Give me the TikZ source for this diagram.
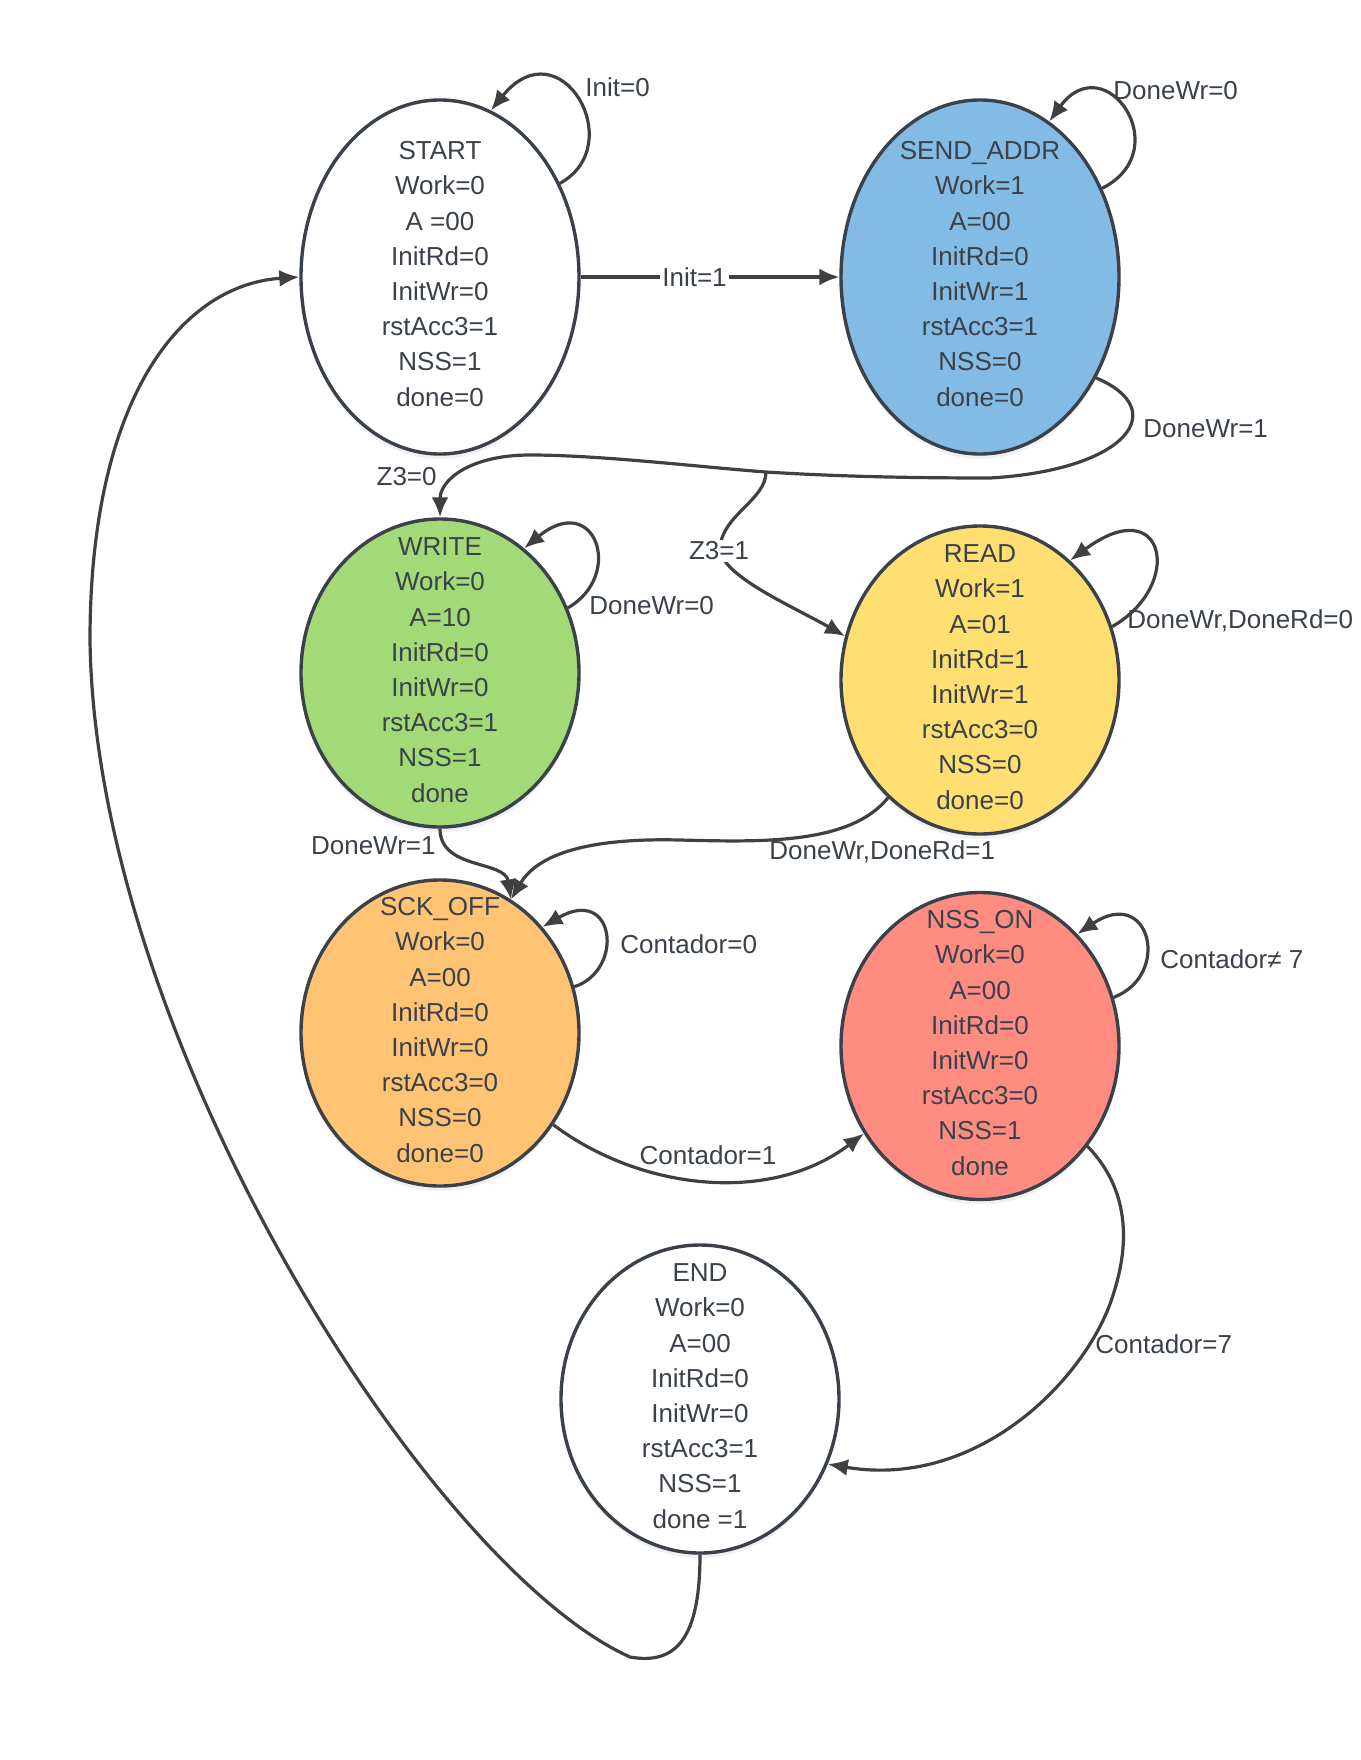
\documentclass[tikz,border=0pt]{standalone}
\usepackage{fontspec}
\setmainfont{Liberation Sans}
\usetikzlibrary{arrows.meta,shapes.geometric,shadows}
\definecolor{ink}{RGB}{58,65,74}
\definecolor{edgec}{RGB}{64,64,64}
\definecolor{fblue}{HTML}{83BBE5}
\definecolor{fgreen}{HTML}{A3D977}
\definecolor{fyellow}{HTML}{FFDF71}
\definecolor{forange}{HTML}{FFC374}
\definecolor{fred}{HTML}{FF8C80}
\begin{document}
\begin{tikzpicture}[x=0.5pt,y=-0.5pt,
  fsm/.style={ellipse, draw=ink, line width=1.7pt, minimum width=139pt, inner sep=0pt, fill=white,
    drop shadow={opacity=0.12, shadow xshift=0pt, shadow yshift=-2.5pt}},
  txt/.style={align=center, text=ink, font=\fontsize{13}{17.6}\selectfont, inner sep=0pt},
  lbl/.style={text=ink, font=\fontsize{13}{15}\selectfont, inner sep=1pt},
  tr/.style={draw=edgec, line width=1.6pt, -{Latex[length=10pt,width=8.5pt]}},
]
\useasboundingbox (0,0) rectangle (1360,1760);

% states
\node[fsm, minimum height=177pt] (start) at (440,277) {};
\node[fsm, fill=fblue, minimum height=177pt] (send) at (980,277) {};
\node[fsm, fill=fgreen, minimum height=154pt] (write) at (440,673) {};
\node[fsm, fill=fyellow, minimum height=154pt] (read) at (980,680) {};
\node[fsm, fill=forange, minimum height=153pt] (sck) at (440,1033) {};
\node[fsm, fill=fred, minimum height=153.5pt] (nss) at (980,1046) {};
\node[fsm, minimum height=154pt] (fin) at (700,1399) {};

\node[txt] (startT) at ([yshift=1.5pt]start.center) {START\\Work=0\\A =00\\InitRd=0\\InitWr=0\\rstAcc3=1\\NSS=1\\done=0};
\node[txt] (sendT) at ([yshift=1.5pt]send.center) {SEND\_ADDR\\Work=1\\A=00\\InitRd=0\\InitWr=1\\rstAcc3=1\\NSS=0\\done=0};
\node[txt] (writeT) at ([yshift=1.5pt]write.center) {WRITE\\Work=0\\A=10\\InitRd=0\\InitWr=0\\rstAcc3=1\\NSS=1\\done};
\node[txt] (readT) at ([yshift=1.5pt]read.center) {READ\\Work=1\\A=01\\InitRd=1\\InitWr=1\\rstAcc3=0\\NSS=0\\done=0};
\node[txt] (sckT) at ([yshift=1.5pt]sck.center) {SCK\_OFF\\Work=0\\A=00\\InitRd=0\\InitWr=0\\rstAcc3=0\\NSS=0\\done=0};
\node[txt] (nssT) at ([yshift=1.5pt]nss.center) {NSS\_ON\\Work=0\\A=00\\InitRd=0\\InitWr=0\\rstAcc3=0\\NSS=1\\done};
\node[txt] (finT) at ([yshift=1.5pt]fin.center) {END\\Work=0\\A=00\\InitRd=0\\InitWr=0\\rstAcc3=1\\NSS=1\\done =1};

% transitions
\draw[tr] (start.38) .. controls (630,145) and (560,25) .. (start.73);
\node[lbl, anchor=west] (l1) at (583,87) {Init=0};

\draw[tr] (start) -- node[lbl, fill=white, pos=0.44] (l2) {Init=1} (send);

\draw[tr] (send.36) .. controls (1178,150) and (1105,45) .. (send.66);
\node[lbl, anchor=west] (l3) at (1111,91) {DoneWr=0};

\coordinate (j) at (766,472);
\draw[tr] (send.-41) .. controls (1172,410) and (1127,470) .. (990,478)
  .. controls (900,478) and (830,476) .. (j)
  .. controls (700,467) and (600,455) .. (530,455)
  .. controls (470,455) and (440,480) .. (write.north);
\node[lbl, anchor=west] (l4) at (1141,429) {DoneWr=1};
\node[lbl, anchor=east] (l5) at (439,477) {Z3=0};

\draw[tr] (j) .. controls (766,500) and (722,515) .. (720,548)
  .. controls (720,575) and (790,605) .. (read.162);
\node[lbl, fill=white] (l6) at (719,551) {Z3=1};

\draw[tr] (write.27) .. controls (625,575) and (595,490) .. (write.56);
\node[lbl, anchor=west] (l7) at (587,606) {DoneWr=0};

\draw[tr] (write.south) .. controls (440,870) and (505,860) .. (sck.62);
\node[lbl, anchor=east] (l8) at (438,846) {DoneWr=1};

\draw[tr] (read.22) .. controls (1185,585) and (1165,490) .. (read.53);
\node[lbl, anchor=west] (l9) at (1125,621) {DoneWr,DoneRd=0};

\draw[tr] (read.-128) .. controls (850,845) and (760,842) .. (680,840)
  .. controls (600,838) and (540,850) .. (sck.62);
\node[lbl, anchor=west] (l10) at (767,852) {DoneWr,DoneRd=1};

\draw[tr] (sck.19) .. controls (625,970) and (615,885) .. (sck.46);
\node[lbl, anchor=west] (l11) at (618,944) {Contador=0};

\draw[tr] (sck.-39) .. controls (640,1190) and (770,1205) .. (nss.217);
\node[lbl] (l12) at (708,1155) {Contador=1};

\draw[tr] (nss.20) .. controls (1172,975) and (1150,885) .. (nss.49);
\node[lbl, anchor=west] (l13) at (1158,959) {Contador≠ 7};

\draw[tr] (nss.-43) .. controls (1125,1185) and (1132,1235) .. (1114,1292)
  .. controls (1090,1375) and (980,1490) .. (fin.-27);
\node[lbl, anchor=west] (l14) at (1093,1344) {Contador=7};

\draw[tr] (fin.south) .. controls (700,1640) and (675,1665) .. (630,1657)
  .. controls (430,1567) and (95,1040) .. (90,640)
  .. controls (90,400) and (180,285) .. (start.west);
\end{tikzpicture}
\end{document}
